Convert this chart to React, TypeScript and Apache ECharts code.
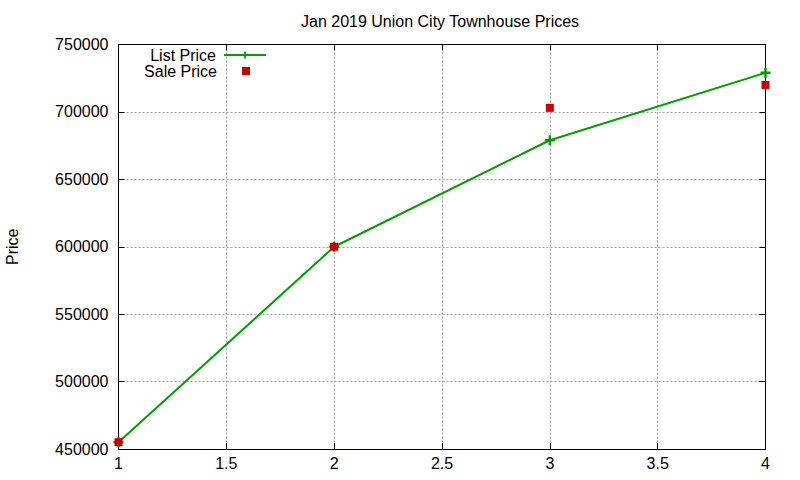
import React, { useEffect, useRef } from 'react';
import * as echarts from 'echarts';

// data
const bedrooms = [1, 2, 3, 4];
const listPrice = [455000, 600000, 679000, 729000];
const salePrice = [455000, 600000, 703000, 720000];

const FONT = 'Liberation Sans, Arial, sans-serif';
const PLUS = 'path://M3,0H5V3H8V5H5V8H3V5H0V3H3Z';
const SQUARE = 'path://M0,0H1V1H0Z';

const App: React.FC = () => {
    const chartRef = useRef<HTMLDivElement>(null);

    useEffect(() => {
        if (!chartRef.current) return;
        const chart = echarts.init(chartRef.current, undefined, { renderer: 'svg' });

        const gridLine = { show: true, lineStyle: { color: '#a0a0a0', type: [2, 2] as number[], width: 1 } };
        const frame = { show: true, onZero: false, lineStyle: { color: '#000', width: 1 } };
        const ticks = { show: true, inside: true, length: 6, lineStyle: { color: '#000' } };

        const option: any = {
            animation: false,
            backgroundColor: '#fff',
            textStyle: { fontFamily: FONT },
            title: {
                text: 'Jan 2019 Union City Townhouse Prices',
                left: 296,
                top: 8,
                textStyle: { fontFamily: FONT, fontSize: 16, fontWeight: 'normal', color: '#000' },
            },
            legend: [
                {
                    data: [{ name: 'List Price' }],
                    orient: 'vertical',
                    align: 'right',
                    right: 528,
                    top: 42,
                    itemWidth: 42,
                    itemHeight: 9,
                    textStyle: { fontFamily: FONT, fontSize: 16, color: '#000', padding: [0, 3, 0, 0] },
                },
                {
                    data: [{ name: 'Sale Price', icon: 'rect' }],
                    orient: 'vertical',
                    align: 'right',
                    right: 545,
                    top: 58,
                    itemWidth: 8,
                    itemHeight: 8,
                    textStyle: { fontFamily: FONT, fontSize: 16, color: '#000', padding: [0, 20, 0, 0] },
                },
            ],
            grid: { left: 118.5, right: 34.5, top: 44.5, bottom: 31, outerBoundsMode: 'none', containLabel: false },
            xAxis: [
                {
                    type: 'value',
                    min: 1,
                    max: 4,
                    interval: 0.5,
                    axisLine: frame,
                    axisTick: ticks,
                    axisLabel: { color: '#000', fontSize: 16, fontFamily: FONT, margin: 6 },
                    splitLine: gridLine,
                },
                {
                    type: 'value',
                    position: 'top',
                    min: 1,
                    max: 4,
                    interval: 0.5,
                    axisLine: frame,
                    axisTick: ticks,
                    axisLabel: { show: false },
                    splitLine: { show: false },
                },
            ],
            yAxis: [
                {
                    type: 'value',
                    min: 450000,
                    max: 750000,
                    interval: 50000,
                    name: 'Price',
                    nameLocation: 'middle',
                    nameGap: 98,
                    nameTextStyle: { color: '#000', fontSize: 16, fontFamily: FONT },
                    axisLine: frame,
                    axisTick: ticks,
                    axisLabel: {
                        color: '#000',
                        fontSize: 16,
                        fontFamily: FONT,
                        margin: 10,
                        formatter: (v: number) => String(v),
                    },
                    splitLine: gridLine,
                },
                {
                    type: 'value',
                    position: 'right',
                    min: 450000,
                    max: 750000,
                    interval: 50000,
                    axisLine: frame,
                    axisTick: ticks,
                    axisLabel: { show: false },
                    splitLine: { show: false },
                },
            ],
            series: [
                {
                    name: 'List Price',
                    type: 'line',
                    data: bedrooms.map((x, i) => [x, listPrice[i]]),
                    symbol: PLUS,
                    symbolSize: 10,
                    showAllSymbol: true,
                    clip: false,
                    lineStyle: { color: '#00a000', width: 2 },
                    itemStyle: { color: '#00a000' },
                },
                {
                    name: 'Sale Price',
                    type: 'scatter',
                    data: bedrooms.map((x, i) => [x, salePrice[i]]),
                    symbol: SQUARE,
                    symbolSize: 8,
                    clip: false,
                    itemStyle: { color: '#cc0000', opacity: 1 },
                    z: 3,
                },
            ],
        };

        chart.setOption(option);
        return () => chart.dispose();
    }, []);

    return (
        <div
            ref={chartRef}
            style={{ position: 'absolute', left: 0, top: 0, width: 800, height: 480 }}
        />
    );
};

export default App;
